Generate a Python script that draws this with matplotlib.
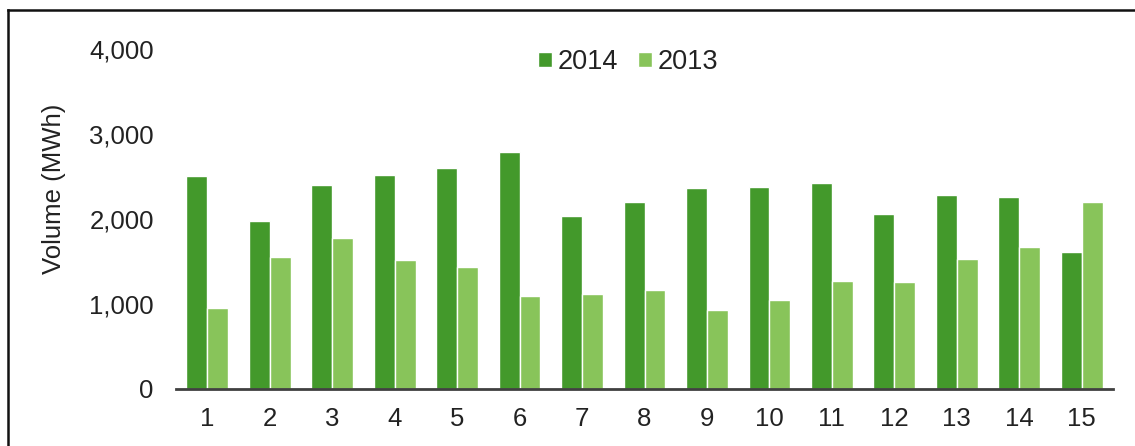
import matplotlib
matplotlib.use("Agg")
import matplotlib.pyplot as plt
from matplotlib.lines import Line2D
import numpy as np

plt.rcParams['font.family'] = ['Liberation Sans', 'DejaVu Sans']

categories = [str(i) for i in range(1, 16)]
vol_2014 = [2500, 1980, 2400, 2520, 2600, 2785, 2035, 2200, 2360, 2380, 2425, 2060, 2280, 2260, 1615]
vol_2013 = [950, 1555, 1775, 1515, 1435, 1095, 1115, 1170, 930, 1050, 1270, 1255, 1535, 1675, 2200]
series_labels = ['2014', '2013']
y_ticks = [0, 1000, 2000, 3000, 4000]

W, H = 1135, 446
fig = plt.figure(figsize=(W / 100, H / 100), dpi=100)
ax = fig.add_axes([176 / W, 1 - 389 / H, (1113 - 176) / W, (389 - 49) / H])

x = np.arange(len(categories))
bw = 0.335
c14 = '#43992B'
c13 = '#88C45A'
b1 = ax.bar(x - bw / 2, vol_2014, width=bw, color=c14, edgecolor='white', linewidth=1, label=series_labels[0])
b2 = ax.bar(x + bw / 2, vol_2013, width=bw, color=c13, edgecolor='white', linewidth=1, label=series_labels[1])

ax.set_xlim(-0.5, len(categories) - 0.5)
ax.set_ylim(0, 4000)
ax.set_yticks(y_ticks)
ax.set_yticklabels([f'{v:,}' for v in y_ticks])
ax.set_xticks(x)
ax.set_xticklabels(categories)

for s in ['top', 'right', 'left']:
    ax.spines[s].set_visible(False)
ax.spines['bottom'].set_color('#404040')
ax.spines['bottom'].set_linewidth(2)
ax.tick_params(axis='both', length=0, labelsize=18.5, colors='#222222')
ax.tick_params(axis='y', pad=16)
ax.tick_params(axis='x', pad=13)

ax.set_ylabel('Volume (MWh)', fontsize=18.5, color='#222222')
ax.yaxis.set_label_coords((66 - 176) / (1113 - 176), (389 - 189) / (389 - 49))

leg = fig.legend(handles=[b1, b2], labels=series_labels, loc='center',
                 bbox_to_anchor=(628 / W, 1 - 62 / H), ncol=2, frameon=False,
                 fontsize=19.5, handlelength=0.52, handleheight=0.52,
                 handletextpad=0.2, columnspacing=0.75)
for t in leg.get_texts():
    t.set_color('#222222')

# outer frame (top and left edges visible)
fig.add_artist(Line2D([8 / W, 1.0], [1 - 10 / H, 1 - 10 / H], transform=fig.transFigure, color='#111111', linewidth=1.8))
fig.add_artist(Line2D([8 / W, 8 / W], [0.0, 1 - 10 / H], transform=fig.transFigure, color='#111111', linewidth=1.8))

fig.savefig('out.png', dpi=100, facecolor='white')
